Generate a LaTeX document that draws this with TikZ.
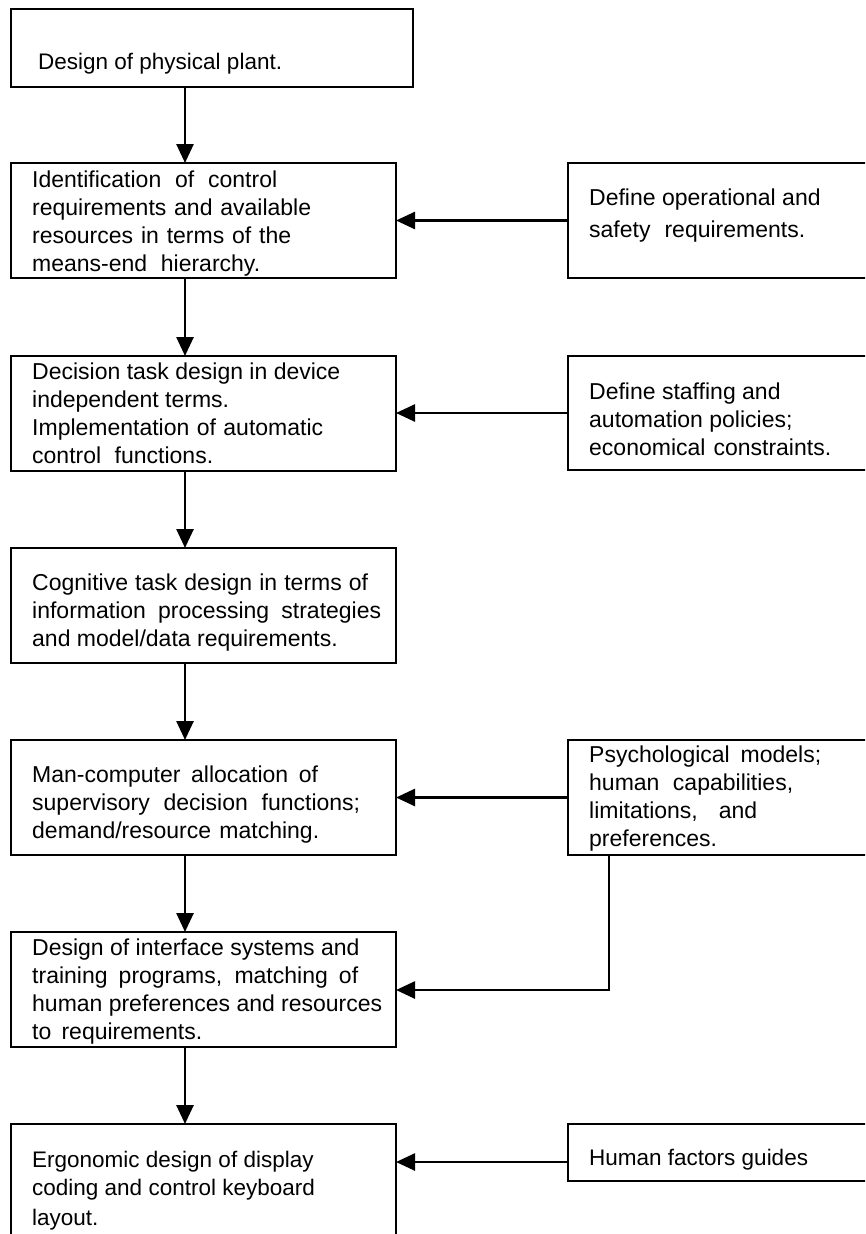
\documentclass[tikz,border=0pt]{standalone}
\usepackage{fontspec}
\setmainfont{Liberation Sans}
\usetikzlibrary{arrows.meta}
% a line of text spread to a given width (in pt) by its word spaces
\newcommand{\jline}[2]{\makebox[#1pt][s]{#2}}
\begin{document}
\begin{tikzpicture}[x=1pt,y=-1pt,
  box/.style={draw, line width=2.9pt, anchor=north west, inner sep=0pt, outer sep=0pt},
  txt/.style={anchor=north west, inner sep=0pt, align=left,
    font=\fontsize{22.5}{28}\selectfont},
  wtxt/.style={txt, font=\fontsize{23}{28}\selectfont},
  flow/.style={line width=2.6pt, -{Triangle[length=19pt,width=17pt]}}]
\useasboundingbox (0,0) rectangle (865,1234);
\clip (0,0) rectangle (865,1234);

% main chain of design stages
\node[box, minimum width=402pt, minimum height=78pt]  (b1) at (11,9) {};
\node[box, minimum width=385pt, minimum height=115pt] (b2) at (11,163) {};
\node[box, minimum width=385pt, minimum height=115pt] (b3) at (11,356) {};
\node[box, minimum width=385pt, minimum height=115pt] (b4) at (11,548) {};
\node[box, minimum width=385pt, minimum height=115pt] (b5) at (11,740) {};
\node[box, minimum width=385pt, minimum height=115pt] (b6) at (11,932) {};
\node[box, minimum width=385pt, minimum height=130pt] (b7) at (11,1124) {};

% side inputs
\node[box, minimum width=310pt, minimum height=115pt] (r1) at (568,163) {};
\node[box, minimum width=310pt, minimum height=114pt] (r2) at (568,356) {};
\node[box, minimum width=310pt, minimum height=115pt] (r3) at (568,740) {};
\node[box, minimum width=310pt, minimum height=57pt]  (r4) at (568,1124) {};

% texts
\node[txt] (t1) at (38,49.4) {\strut Design of physical plant.};
\node[wtxt] (t2) at (32,167.4) {\strut\jline{245}{Identification of control}\\
  \jline{279}{requirements and available}\\
  \jline{259}{resources in terms of the}\\
  \jline{228}{means-end hierarchy.}};
\node[wtxt] (t3) at (32,359.4) {\strut Decision task design in device\\
  independent terms.\\
  \jline{291}{Implementation of automatic}\\
  \jline{181}{control functions.}};
\node[wtxt] (t4) at (32,570.4) {\strut\jline{336}{Cognitive task design in terms of}\\
  \jline{349}{information processing strategies}\\
  and model/data requirements.};
\node[wtxt] (t5) at (32,762.4) {\strut\jline{286}{Man-computer allocation of}\\
  \jline{328}{supervisory decision functions;}\\
  \jline{287}{demand/resource matching.}};
\node[wtxt] (t6) at (32,935.4) {\strut Design of interface systems and\\
  \jline{326}{training programs, matching of}\\
  \jline{350}{human preferences and resources}\\
  \jline{170}{to requirements.}};
\node[txt] (t7) at (32,1147.4) {\strut Ergonomic design of display\\coding and control keyboard\\[2pt]layout.};
\node[wtxt] (u1) at (589,185.4) {\strut Define operational and\\[4pt]\jline{216}{safety requirements.}};
\node[wtxt] (u2) at (589,379.4) {\strut Define staffing and\\automation policies;\\
  \jline{242}{economical constraints.}};
\node[wtxt] (u3) at (589,742.4) {\strut\jline{232}{Psychological models;}\\
  \jline{204}{human capabilities,}\\
  \jline{168}{limitations, and}\\preferences.};
\node[txt] (u4) at (589,1145.4) {\strut Human factors guides};

% connectors
\coordinate (ax) at (185,0);
\draw[flow] (b1.south -| ax) -- (b2.north -| ax);
\draw[flow] (b2.south -| ax) -- (b3.north -| ax);
\draw[flow] (b3.south -| ax) -- (b4.north -| ax);
\draw[flow] (b4.south -| ax) -- (b5.north -| ax);
\draw[flow] (b5.south -| ax) -- (b6.north -| ax);
\draw[flow] (b6.south -| ax) -- (b7.north -| ax);

\draw[flow] (r1.west) -- (b2.east |- r1.west);
\draw[flow] (r2.west) -- (b3.east |- r2.west);
\draw[flow] (r3.west) -- (b5.east |- r3.west);
\coordinate (pk) at (609,990);
\draw[flow] (r3.south -| pk) -- (pk) -- (b6.east |- pk);
\coordinate (hf) at (0,1162);
\draw[flow] (r4.west |- hf) -- (b7.east |- hf);
\end{tikzpicture}
\end{document}
